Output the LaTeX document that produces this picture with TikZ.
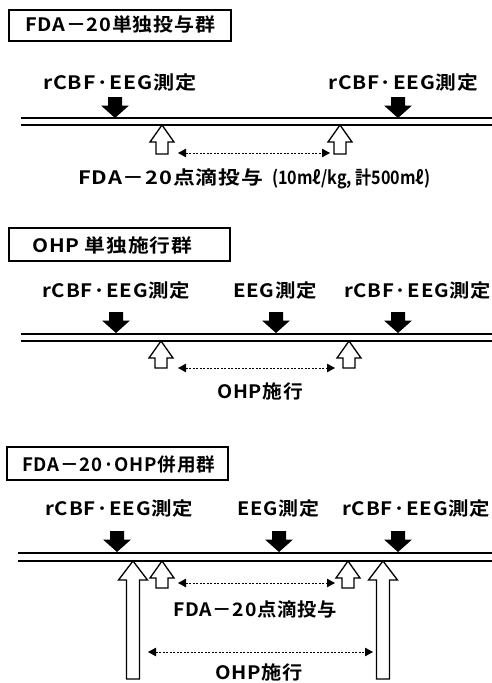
\documentclass[tikz,border=0pt]{standalone}
\usepackage{fontspec}
\setmainfont{Noto Sans CJK JP}[BoldFont={Noto Sans CJK JP Bold}]
\usetikzlibrary{arrows.meta}
\newcommand{\blkdown}[2]{%
  \fill[black] (#1-7,#2-21) -- (#1+7,#2-21) -- (#1+7,#2-12.5) -- (#1+14,#2-12.5)
    -- (#1,#2) -- (#1-14,#2-12.5) -- (#1-7,#2-12.5) -- cycle;}
% x, tip y, head length, total length, head half width, shaft half width
\newcommand{\whtup}[6]{%
  \draw[line width=1.3pt, fill=white, line join=miter] (#1,#2) -- (#1+#5,#2+#3) -- (#1+#6,#2+#3)
    -- (#1+#6,#2+#4) -- (#1-#6,#2+#4) -- (#1-#6,#2+#3) -- (#1-#5,#2+#3) -- cycle;}
\newcommand{\fitw}[2]{\resizebox{#1}{\height}{#2}}
\tikzset{
  txt/.style={inner sep=0pt, anchor=base west,
    font=\fontsize{18.5}{21}\selectfont\bfseries\addfontfeature{LetterSpace=4}},
  boxframe/.style={draw, line width=1.3pt},
  rail/.style={line width=1.3pt},
  dash arrow/.style={line width=0.8pt, dash pattern=on 2pt off 1.5pt,
    {Triangle[length=8pt,width=8.5pt]}-{Triangle[length=8pt,width=8.5pt]}}
}
\begin{document}
\begin{tikzpicture}[x=1pt,y=-1pt]
\useasboundingbox (0,0) rectangle (492,683);
% ---------- section 1 ----------
\draw[boxframe] (9,10) rectangle (231,41);
\node[txt] (t1) at (25,31.5) {\fitw{190pt}{FDA－20単独投与群}};
\node[txt] (l1a) at (43,89) {\fitw{153pt}{rCBF·EEG測定}};
\node[txt] (l1b) at (328,89) {\fitw{150pt}{rCBF·EEG測定}};
\blkdown{115}{118}
\blkdown{398}{118}
\coordinate (r1a) at (21,118); \coordinate (r1b) at (492,118);
\coordinate (r1c) at (21,125); \coordinate (r1d) at (492,125);
\draw[rail] (r1a) -- (r1b);
\draw[rail] (r1c) -- (r1d);
\whtup{162}{125}{17}{29}{12}{6}
\whtup{340}{125}{17}{29}{12}{6}
\coordinate (d1a) at (178,153); \coordinate (d1b) at (330,153);
\draw[dash arrow] (d1a) -- (d1b);
\node[txt] (b1) at (78,184) {\fitw{185pt}{FDA－20点滴投与}\hspace{9pt}\fitw{158pt}{\addfontfeature{LetterSpace=0}(10mℓ/kg, 計500mℓ)}};
% ---------- section 2 ----------
\draw[boxframe] (9,228) rectangle (230,261);
\node[txt] (t2) at (32,252.5) {\fitw{160pt}{OHP 単独施行群}};
\node[txt] (l2a) at (42,297) {\fitw{148pt}{rCBF·EEG測定}};
\node[txt] (l2b) at (233,297) {\fitw{84pt}{EEG測定}};
\node[txt] (l2c) at (344,297) {\fitw{147pt}{rCBF·EEG測定}};
\blkdown{116}{333}
\blkdown{276}{333}
\blkdown{398}{333}
\coordinate (r2a) at (21,334); \coordinate (r2b) at (492,334);
\coordinate (r2c) at (21,341); \coordinate (r2d) at (492,341);
\draw[rail] (r2a) -- (r2b);
\draw[rail] (r2c) -- (r2d);
\whtup{161}{341}{17}{27}{12}{6}
\whtup{349}{341}{17}{27}{12}{6}
\coordinate (d2a) at (178,368); \coordinate (d2b) at (335,368);
\draw[dash arrow] (d2a) -- (d2b);
\node[txt] (b2) at (217,398) {\fitw{86pt}{OHP施行}};
% ---------- section 3 ----------
\draw[boxframe] (7,447) rectangle (228,480);
\node[txt] (t3) at (22,471.5) {\fitw{193pt}{FDA－20·OHP併用群}};
\node[txt] (l3a) at (45,515) {\fitw{148pt}{rCBF·EEG測定}};
\node[txt] (l3b) at (237,515) {\fitw{82pt}{EEG測定}};
\node[txt] (l3c) at (342,515) {\fitw{148pt}{rCBF·EEG測定}};
\blkdown{117}{552}
\blkdown{279}{552}
\blkdown{398}{552}
\coordinate (r3a) at (18,553); \coordinate (r3b) at (492,553);
\coordinate (r3c) at (18,561); \coordinate (r3d) at (492,561);
\draw[rail] (r3a) -- (r3b);
\draw[rail] (r3c) -- (r3d);
\whtup{133}{561}{19}{118}{14.5}{6.5}
\whtup{383}{561}{19}{118}{14.5}{6.5}
\whtup{162}{561}{17}{27}{12}{6}
\whtup{348}{561}{17}{27}{12}{6}
\coordinate (d3a) at (178,583); \coordinate (d3b) at (335,583);
\draw[dash arrow] (d3a) -- (d3b);
\node[txt] (b3) at (173,616) {\fitw{164pt}{FDA－20点滴投与}};
\coordinate (d4a) at (148,652); \coordinate (d4b) at (373,652);
\draw[dash arrow] (d4a) -- (d4b);
\node[txt] (b4) at (215,679) {\fitw{88pt}{OHP施行}};
\end{tikzpicture}
\end{document}
